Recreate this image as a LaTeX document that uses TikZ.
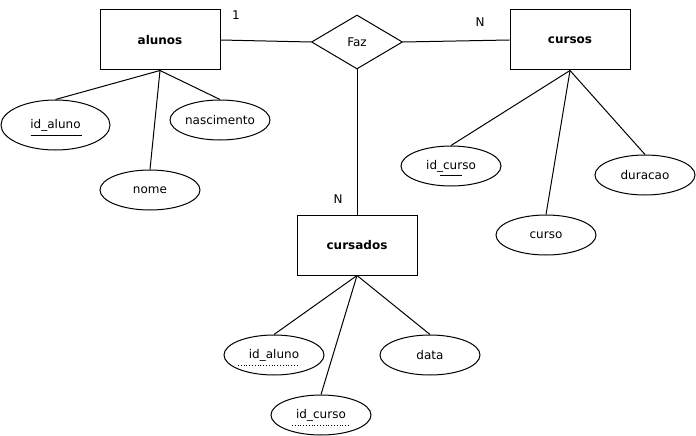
\documentclass[tikz,border=0pt]{standalone}
\usepackage{fontspec}
\setmainfont{DejaVu Sans}
\usetikzlibrary{shapes.geometric}
\begin{document}
\begin{tikzpicture}[x=1pt,y=-1pt,
  font=\fontsize{12}{14}\selectfont,
  entity/.style={draw, line width=1pt, minimum width=120pt, minimum height=60pt, inner sep=0pt, font=\fontsize{12}{14}\selectfont\bfseries},
  attr/.style={draw, ellipse, line width=1pt, minimum width=100pt, minimum height=40pt, inner sep=0pt},
  rel/.style={draw, diamond, aspect=1.7, line width=1pt, minimum width=91pt, minimum height=54pt, inner sep=0pt},
  conn/.style={line width=1pt},
  card/.style={inner sep=0pt}]
\useasboundingbox (0,0) rectangle (696,436);
% entities and relationship
\node[entity] (alunos) at (160,40) {alunos};
\node[rel] (faz) at (357,42) {Faz};
\node[entity] (cursos) at (570,40) {cursos};
\node[entity] (cursados) at (357,245) {cursados};
% attributes of alunos
\node[attr, minimum width=109pt, minimum height=50pt] (aid) at (55.5,125) {id\_aluno};
\node[attr] (anome) at (150,190) {nome};
\node[attr] (anasc) at (220,120) {nascimento};
% attributes of cursos
\node[attr] (cid) at (451,166) {id\_curso};
\node[attr] (ccurso) at (546,235) {curso};
\node[attr] (cdur) at (645,175) {duracao};
% attributes of cursados
\node[attr] (sal) at (274,355) {id\_aluno};
\node[attr] (sdata) at (430,355) {data};
\node[attr] (scur) at (321,415) {id\_curso};
% cardinalities
\node[card] (c1) at (236,15) {1};
\node[card] (cn1) at (480,22) {N};
\node[card] (cn2) at (338,199) {N};
% connectors
\draw[conn] (alunos.east) -- (faz.west);
\draw[conn] (faz.east) -- (cursos.west);
\draw[conn] (faz.south) -- (cursados.north);
\draw[conn] (alunos.south) -- (aid.north);
\draw[conn] (alunos.south) -- (anome.north);
\draw[conn] (alunos.south) -- (anasc.north);
\draw[conn] (cursos.south) -- (cid.north);
\draw[conn] (cursos.south) -- (ccurso.north);
\draw[conn] (cursos.south) -- (cdur.north);
\draw[conn] (cursados.south) -- (sal.north);
\draw[conn] (cursados.south) -- (sdata.north);
\draw[conn] (cursados.south) -- (scur.north);
% key underlines
\draw[line width=1pt] ([shift={(-25,10)}]aid.center) -- ([shift={(26,10)}]aid.center);
\draw[line width=1pt] ([shift={(-11,9)}]cid.center) -- ([shift={(11,9)}]cid.center);
\draw[line width=0.8pt, dotted] ([shift={(-36,10)}]sal.center) -- ([shift={(23,10)}]sal.center);
\draw[line width=0.8pt, dotted] ([shift={(-29,10)}]scur.center) -- ([shift={(29,10)}]scur.center);
\end{tikzpicture}
\end{document}
